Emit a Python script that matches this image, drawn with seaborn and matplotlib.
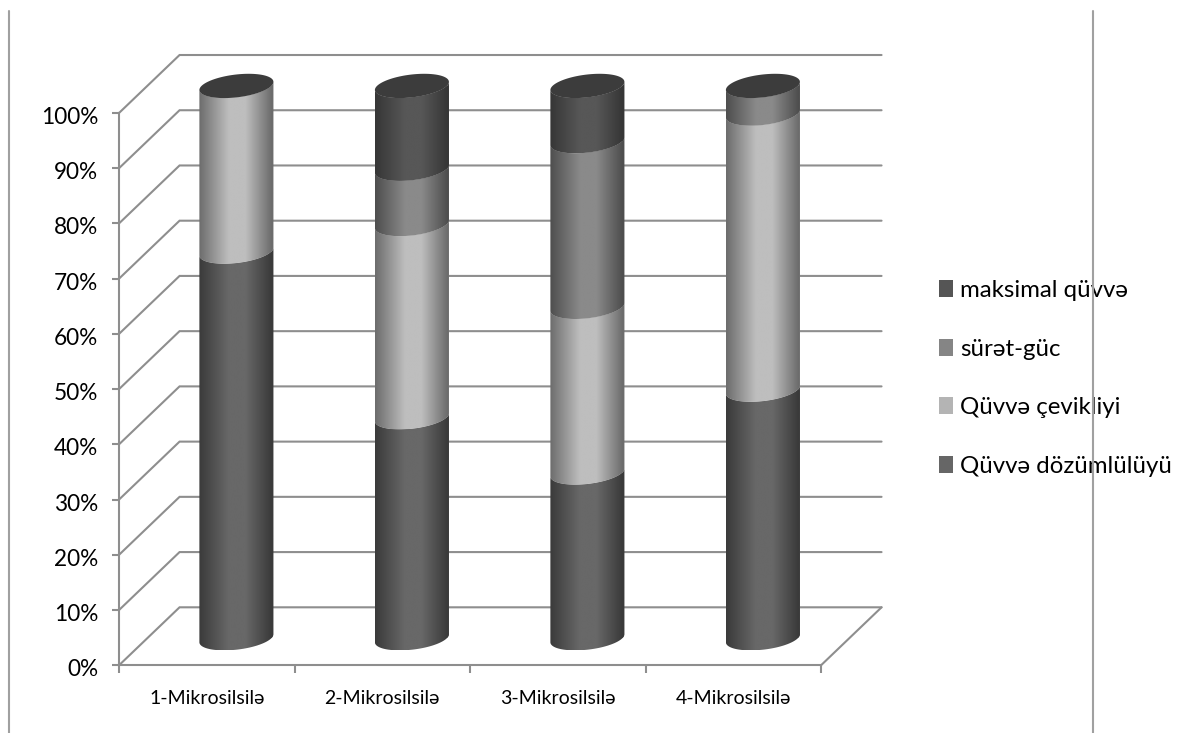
import numpy as np
import pandas as pd
import matplotlib
matplotlib.use("Agg")
import matplotlib.pyplot as plt
import seaborn as sns
from matplotlib.colors import LinearSegmentedColormap
from matplotlib.lines import Line2D
from matplotlib.patches import Patch, PathPatch
from matplotlib.path import Path
from matplotlib.ticker import PercentFormatter
from matplotlib.transforms import ScaledTranslation

categories = ["1-Mikrosilsilə", "2-Mikrosilsilə", "3-Mikrosilsilə", "4-Mikrosilsilə"]
series_names = ["Qüvvə dözümlülüyü", "Qüvvə çevikliyi", "sürət-güc", "maksimal qüvvə"]
dozumluluk = [70, 40, 30, 45]
ceviklik = [30, 35, 30, 50]
suret_guc = [0, 10, 30, 5]
maksimal = [0, 15, 10, 0]
series_values = [dozumluluk, ceviklik, suret_guc, maksimal]

# Cylinder shading per series: edge tone, centre tone, flat legend tone
edge_tones = ["#3a3a3a", "#6c6c6c", "#4e4e4e", "#363636"]
centre_tones = ["#686868", "#bebebe", "#8a8a8a", "#575757"]
legend_tones = ["#666666", "#b4b4b4", "#858585", "#555555"]
cap_tone = "#3c3c3c"
line_tone = "#8e8e8e"

# Pseudo-3D geometry, in data units (categories on x, percent on y)
WALL_DX = 0.345
WALL_DY = 10.5
BAR_SHIFT_X = 0.169
BAR_SHIFT_Y = 4.9
BAR_WIDTH = 0.42
ELL_A = 0.199
ELL_B = 0.07
ELL_C = 2.2

sns.set_theme(style="white")
plt.rcParams["font.family"] = ["Lato", "DejaVu Sans"]

W, H = 1177, 733
fig = plt.figure(figsize=(W / 100, H / 100), dpi=100, facecolor="white")
ax = fig.add_axes([119 / W, 1 - 665.3 / H, 702 / W, 552.3 / H])
ax.patch.set_alpha(0)

frame = pd.DataFrame(series_values, index=series_names, columns=categories)


def front_arc(cx, y, reverse=False):
    t0 = np.arctan2(ELL_B, ELL_A)
    t = np.linspace(t0 + np.pi, t0 + 2 * np.pi, 60)
    if reverse:
        t = t[::-1]
    return np.column_stack(
        [cx + ELL_A * np.cos(t) + ELL_B * np.sin(t), y + ELL_C * np.sin(t)]
    )


def shade_map(edge, centre):
    return LinearSegmentedColormap.from_list(
        "shade",
        [(0.0, edge), (0.4, centre), (0.62, centre), (0.97, edge), (1.0, edge)],
    )


bottoms = np.zeros(len(categories))
for i, name in enumerate(series_names):
    values = frame.loc[name].to_numpy(dtype=float)
    n_before = len(ax.patches)
    sns.barplot(
        x=categories, y=values, bottom=bottoms, color=legend_tones[i], width=BAR_WIDTH,
        saturation=1, ax=ax, zorder=3, linewidth=0,
    )
    for bar in ax.patches[n_before:]:
        if bar.get_height() <= 0:
            bar.set_visible(False)
            continue
        cx = bar.get_x() + bar.get_width() / 2 + BAR_SHIFT_X
        y0 = bar.get_y() + BAR_SHIFT_Y
        y1 = y0 + bar.get_height()
        bar.set_x(bar.get_x() + BAR_SHIFT_X)
        bar.set_y(y0)
        outline = np.vstack([front_arc(cx, y0), front_arc(cx, y1, reverse=True)])
        clip = PathPatch(Path(outline, closed=False), transform=ax.transData,
                         facecolor="none", edgecolor="none")
        ax.add_patch(clip)
        bar.set_clip_box(None)
        bar.set_clip_path(clip)
        half = np.hypot(ELL_A, ELL_B)
        img = ax.imshow(
            np.linspace(0, 1, 256).reshape(1, -1),
            cmap=shade_map(edge_tones[i], centre_tones[i]),
            extent=(cx - half, cx + half, y0 - ELL_C, y1 + ELL_C),
            aspect="auto", zorder=4, interpolation="bilinear",
        )
        # The column rises above the front plane, so only the figure limits the image
        img.set_clip_box(fig.bbox)
        img.set_clip_path(clip)
    bottoms = bottoms + values

# Dark elliptical caps on top of every column
totals = frame.sum(axis=0).to_numpy()
for k, total in enumerate(totals):
    t = np.linspace(0, 2 * np.pi, 120)
    cx = k + BAR_SHIFT_X
    cy = total + BAR_SHIFT_Y
    ax.fill(cx + ELL_A * np.cos(t) + ELL_B * np.sin(t), cy + ELL_C * np.sin(t),
            color=cap_tone, lw=0, zorder=5, clip_on=False)

ax.set_xlim(-0.5, 3.5)
ax.set_ylim(0, 100)

# Back wall, side wall and floor lines
y_levels = np.arange(0, 101, 10)
for y in y_levels:
    ax.plot([-0.5, -0.5 + WALL_DX, 3.5 + WALL_DX], [y, y + WALL_DY, y + WALL_DY],
            color=line_tone, lw=1.5, clip_on=False, zorder=1, solid_joinstyle="miter")
ax.plot([3.5, 3.5 + WALL_DX], [0, WALL_DY], color=line_tone, lw=1.5, clip_on=False, zorder=1)

ax.set_yticks(y_levels)
ax.yaxis.set_major_formatter(PercentFormatter(100, decimals=0))
ax.set_xticks(range(len(categories)), categories)
ax.set_xticks(np.arange(-0.5, 3.6, 1), minor=True)
ax.tick_params(axis="y", which="major", length=5, width=1.5, color=line_tone,
               labelsize=16.3, pad=10, labelcolor="black", left=True)
ax.tick_params(axis="x", which="major", length=0, labelsize=14, pad=18, labelcolor="black")
ax.tick_params(axis="x", which="minor", length=6, width=1.5, color=line_tone, bottom=True)
ax.set_xlabel("")
ax.set_ylabel("")
for side in ("top", "right"):
    ax.spines[side].set_visible(False)
for side in ("left", "bottom"):
    ax.spines[side].set_color(line_tone)
    ax.spines[side].set_linewidth(1.5)

# Percent labels sit slightly below their ticks
nudge = ScaledTranslation(0, -2.5 / 72 * 0.72, fig.dpi_scale_trans)
for label in ax.get_yticklabels():
    label.set_transform(label.get_transform() + nudge)

# Legend, top series first
handles = [Patch(facecolor=legend_tones[i], edgecolor="none", label=series_names[i])
           for i in reversed(range(len(series_names)))]
ax.legend(
    handles=handles, loc="upper left", bbox_to_anchor=(939 / W, 1 - 280 / H),
    bbox_transform=fig.transFigure, frameon=False, fontsize=17.3, borderpad=0,
    borderaxespad=0, labelspacing=1.56, handlelength=0.58, handleheight=0.73,
    handletextpad=0.29, labelcolor="black",
)

# Page rules running past the chart on both sides
for px in (9, 1093):
    fig.add_artist(Line2D([px / W, px / W], [0, 1 - 11 / H], color="#a0a0a0", lw=1.5, zorder=10))

fig.savefig("out.png", dpi=100, facecolor="white")
